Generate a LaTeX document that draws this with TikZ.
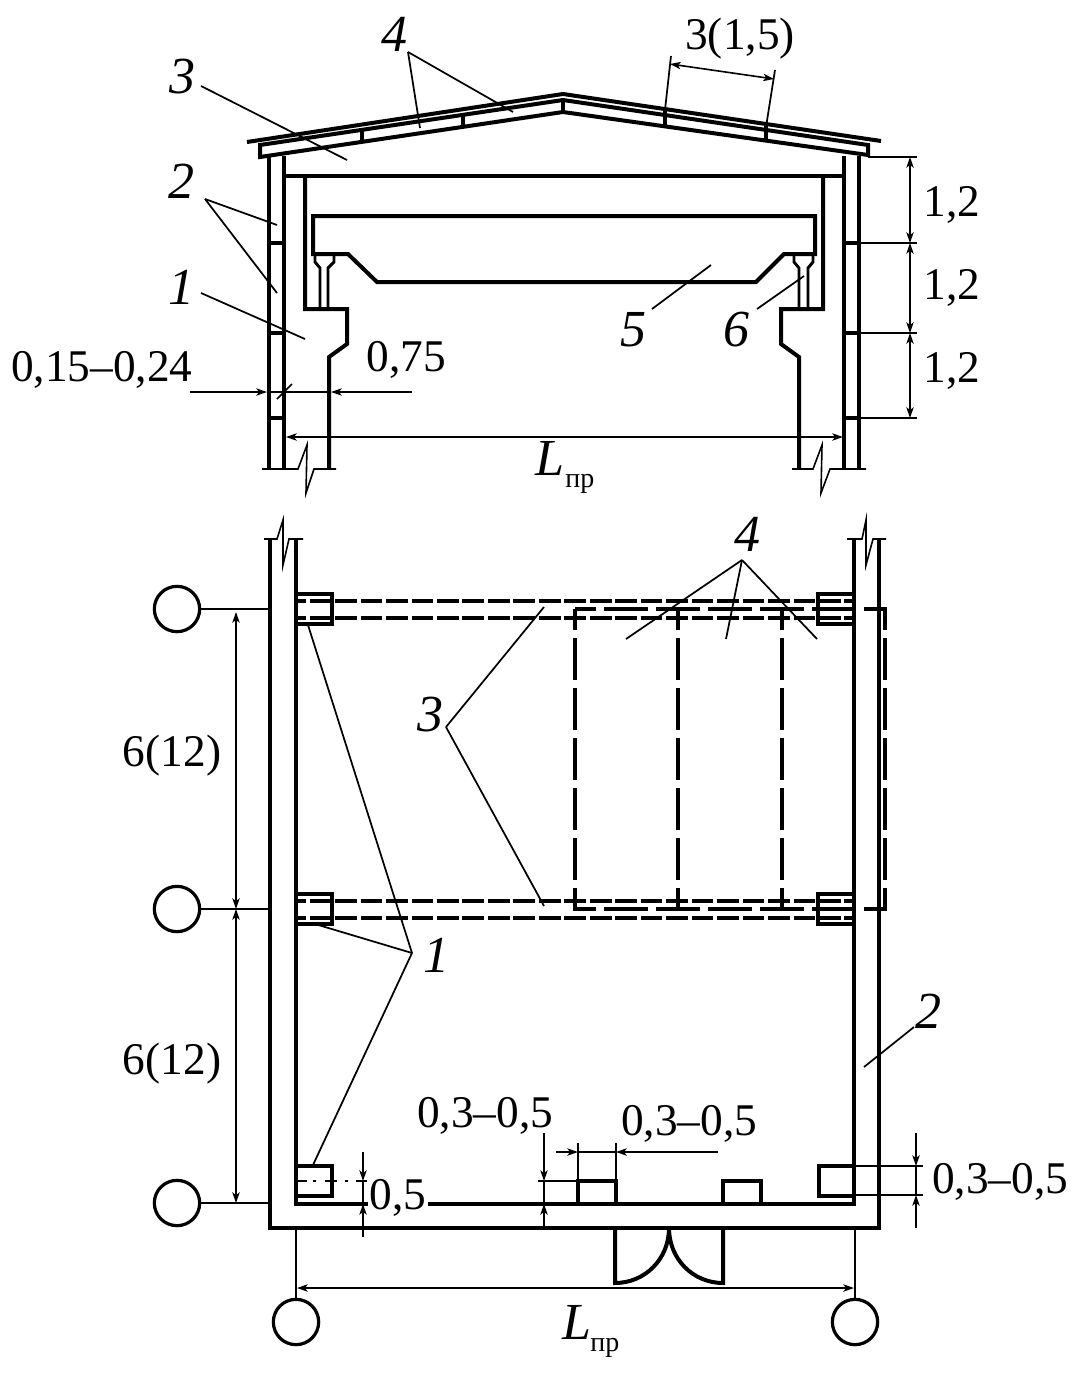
\documentclass[tikz,border=0pt]{standalone}
\usepackage{fontspec}
\setmainfont{Liberation Serif}
\usetikzlibrary{arrows.meta}
\tikzset{
  x=0.75pt,y=-0.75pt,
  thick line/.style={line width=3pt,line join=miter,line cap=butt},
  mid line/.style={line width=2.2pt,line join=miter},
  thin line/.style={line width=1.2pt},
  leader/.style={line width=1.3pt},
  tip/.style={-{Stealth[length=8pt,width=5.5pt,inset=2pt]}},
  twotip/.style={{Stealth[length=8pt,width=5.5pt,inset=2pt]}-{Stealth[length=8pt,width=5.5pt,inset=2pt]}},
  num/.style={font=\fontsize{34}{36}\selectfont,inner sep=0pt,anchor=center},
  ital/.style={font=\fontsize{39}{42}\selectfont\itshape,inner sep=0pt,anchor=center},
  sub/.style={font=\fontsize{21}{24}\selectfont,inner sep=0pt,anchor=base west},
  beam/.style={line width=3.4pt,dash pattern=on 16.3pt off 2.8pt},
  slabh/.style={line width=3.2pt,dash pattern=on 33pt off 6pt},
  slabv/.style={line width=3.2pt,dash pattern=on 31.5pt off 6pt},
  axis circle/.style={circle,draw,line width=2.4pt,minimum size=34pt,inner sep=0pt},
}
\begin{document}
\begin{tikzpicture}
\useasboundingbox (0,0) rectangle (1081,1378);
% ---------- SECTION: roof
\draw[thick line] (247,142) -- (563,94) -- (881,141);
\draw[thick line] (260,145) -- (563,100) -- (868,145) -- (868,155) -- (563,112) -- (260,157) -- cycle;
\foreach \x/\a/\b in {362/130/141,463/116/127,563/100/112,665/110/125,766/126/140}
  \draw[thick line] (\x,\a) -- (\x,\b);
% walls
\foreach \x in {269,284,844,859} \draw[thick line] (\x,156) -- (\x,469);
\foreach \y in {243,333,418} {
  \draw[thick line] (269,\y) -- (284,\y);
  \draw[thick line] (844,\y) -- (859,\y);
}
% breaks at the bottom
\draw[thin line] (262,469) -- (298,469) -- (307,445) -- (306,493) -- (314,469) -- (336,469);
\draw[thin line] (792,469) -- (813,469) -- (822,445) -- (821,493) -- (830,469) -- (866,469);
% ceiling and columns
\draw[thick line] (284,176) -- (844,176);
\draw[thick line] (305,176) -- (305,309) -- (347,309) -- (347,344) -- (329,357) -- (329,469);
\draw[thick line] (823,176) -- (823,309) -- (781,309) -- (781,344) -- (799,357) -- (799,469);
% crane
\draw[thick line] (313,254) -- (313,216) -- (815,216) -- (815,254) -- (784,254) -- (756,282) -- (377,282) -- (348,254) -- cycle;
% rails
\draw[mid line] (315,255) -- (315,262) -- (320,268) -- (320,309);
\draw[mid line] (334,255) -- (334,262) -- (328,268) -- (328,309);
\draw[mid line] (794,255) -- (794,262) -- (799,268) -- (799,309);
\draw[mid line] (813,255) -- (813,262) -- (808,268) -- (808,309);
% right dimensions
\draw[thin line] (868,157) -- (917,157);
\foreach \y in {243,333,418} \draw[thin line] (859,\y) -- (917,\y);
\draw[thin line,twotip] (910,157) -- (910,243);
\draw[thin line,twotip] (910,243) -- (910,333);
\draw[thin line,twotip] (910,333) -- (910,418);
\node[num] (a1) at (952,205) {1,2};
\node[num] (a2) at (952,288) {1,2};
\node[num] (a3) at (952,371) {1,2};
% 3(1,5)
\draw[leader] (665,110) -- (671,56);
\draw[leader] (766,127) -- (775,70);
\draw[thin line,twotip] (670,64) -- (774,79);
\node[num] (t315) at (740,39) {3(1,5)};
% lower left dimensions
\node[num] (t15) at (102,370) {0,15–0,24};
\node[num] (t75) at (406,360) {0,75};
\draw[thin line,tip] (190,392) -- (267,392);
\draw[thin line,tip] (412,392) -- (331,392);
\draw[thin line] (269,392) -- (329,392);
\draw[leader] (277,399) -- (292,384);
\draw[thin line,twotip] (286,437) -- (843,437);
\node[ital] (L1) at (550,458) {L};
\node[sub] (L1s) at (565,487) {пр};
% labels and leaders, section
\node[ital] (n4a) at (394,34) {4};
\coordinate (c4a) at (408,52);
\draw[leader] (c4a) -- (420,128);
\draw[leader] (c4a) -- (513,112);
\node[ital] (n3a) at (182,77) {3};
\coordinate (c3a) at (201,86);
\draw[leader] (c3a) -- (347,160);
\node[ital] (n2a) at (181,181) {2};
\coordinate (c2a) at (205,199);
\draw[leader] (c2a) -- (277,225);
\draw[leader] (c2a) -- (277,293);
\node[ital] (n1a) at (181,287) {1};
\coordinate (c1a) at (201,293);
\draw[leader] (c1a) -- (305,339);
\node[ital] (n5a) at (633,330) {5};
\draw[leader] (652,309) -- (711,265);
\node[ital] (n6a) at (736,330) {6};
\draw[leader] (757,309) -- (804,276);
% ---------- PLAN: walls
\draw[thick line] (270,539) -- (270,1228) -- (879,1228) -- (879,539);
\draw[thick line] (296,539) -- (296,1204) -- (854,1204) -- (854,539);
\draw[thin line] (264,539) -- (277,539) -- (283,520) -- (283,565) -- (289,539) -- (303,539);
\draw[thin line] (847,539) -- (862,539) -- (866,520) -- (866,565) -- (873,539) -- (886,539);
% columns
\foreach \y in {594,894} {
  \draw[thick line] (296,\y) rectangle (332,\y+30);
  \draw[thick line] (854,\y) rectangle (818,\y+30);
}
\draw[thick line] (296,1166) rectangle (332,1196);
\draw[thick line] (854,1166) rectangle (819,1196);
% bearers (dashed)
\foreach \y in {601,618,901,918}
  \draw[beam,dash phase=8.85pt] (296,\y) -- (854,\y);
% slabs (dashed)
\foreach \y in {609,909}
  \draw[slabh,dash phase=17.25pt] (575,\y) -- (887,\y);
\foreach \x in {575,678,782,885}
  \draw[slabv,dash phase=15.75pt] (\x,609) -- (\x,911);
% piers
\draw[thick line] (578,1204) -- (578,1181) -- (616,1181) -- (616,1204);
\draw[thick line] (723,1204) -- (723,1181) -- (761,1181) -- (761,1204);
% door
\draw[thick line] (669,1228) .. controls (669,1259) and (645,1283) .. (615,1283) -- (615,1228);
\draw[thick line] (669,1228) .. controls (669,1259) and (693,1283) .. (723,1283) -- (723,1228);
% axes
\node[axis circle] (ax1) at (177,609) {};
\node[axis circle] (ax2) at (177,909) {};
\node[axis circle] (ax3) at (177,1203) {};
\node[axis circle] (ax4) at (296,1322) {};
\node[axis circle] (ax5) at (855,1322) {};
\draw[thin line] (ax1) -- (270,609);
\draw[thin line] (ax2) -- (270,909);
\draw[thin line] (ax3) -- (270,1203);
\draw[thin line] (296,1228) -- (ax4);
\draw[thin line] (855,1228) -- (ax5);
\draw[thin line,twotip] (297,1288) -- (854,1288);
\node[ital] (L2) at (577,1322) {L};
\node[sub] (L2s) at (590,1351) {пр};
% left dimensions
\draw[thin line,twotip] (236,612) -- (236,909);
\draw[thin line,twotip] (236,909) -- (236,1203);
\node[num] (d1) at (172,756) {6(12)};
\node[num] (d2) at (172,1064) {6(12)};
% 0,5 dimension
\draw[line width=1.6pt] (298,1181) -- (307,1181) (313,1181) -- (316,1181) (325,1181) -- (337,1181) (345,1181) -- (348,1181) (356,1181) -- (367,1181);
\draw[thin line,tip] (363,1152) -- (363,1181);
\draw[thin line,tip] (363,1237) -- (363,1204);
\draw[thin line] (363,1181) -- (363,1204);
\node[num,fill=white,inner xsep=1pt,inner ysep=0pt] (t05) at (398,1198) {0,5};
% mid dimensions
\draw[thin line] (538,1181) -- (578,1181);
\draw[thin line,tip] (544,1133) -- (544,1181);
\draw[thin line,tip] (544,1226) -- (544,1204);
\draw[thin line] (544,1181) -- (544,1204);
\node[num] (t351) at (485,1116) {0,3–0,5};
\draw[thin line] (578,1143) -- (578,1181);
\draw[thin line] (616,1143) -- (616,1181);
\draw[thin line,tip] (556,1152) -- (578,1152);
\draw[thin line,tip] (718,1152) -- (616,1152);
\draw[thin line] (578,1152) -- (616,1152);
\node[num] (t352) at (689,1124) {0,3–0,5};
% right-hand dimension
\draw[thin line] (854,1166) -- (923,1166);
\draw[thin line] (854,1195) -- (923,1195);
\draw[thin line,tip] (916,1133) -- (916,1166);
\draw[thin line,tip] (916,1228) -- (916,1195);
\draw[thin line] (916,1166) -- (916,1195);
\node[num] (t353) at (1000,1182) {0,3–0,5};
% leaders, plan
\node[ital] (n4b) at (747,534) {4};
\coordinate (c4b) at (742,560);
\draw[leader] (c4b) -- (626,639);
\draw[leader] (c4b) -- (726,639);
\draw[leader] (c4b) -- (817,639);
\node[ital] (n3b) at (430,715) {3};
\coordinate (c3b) at (446,727);
\draw[leader] (c3b) -- (544,607);
\draw[leader] (c3b) -- (544,906);
\node[ital] (n1b) at (436,955) {1};
\coordinate (c1b) at (412,953);
\draw[leader] (c1b) -- (308,625);
\draw[leader] (c1b) -- (315,924);
\draw[leader] (c1b) -- (313,1165);
\node[ital] (n2b) at (928,1011) {2};
\draw[leader] (864,1067) -- (914,1027);
\end{tikzpicture}
\end{document}
